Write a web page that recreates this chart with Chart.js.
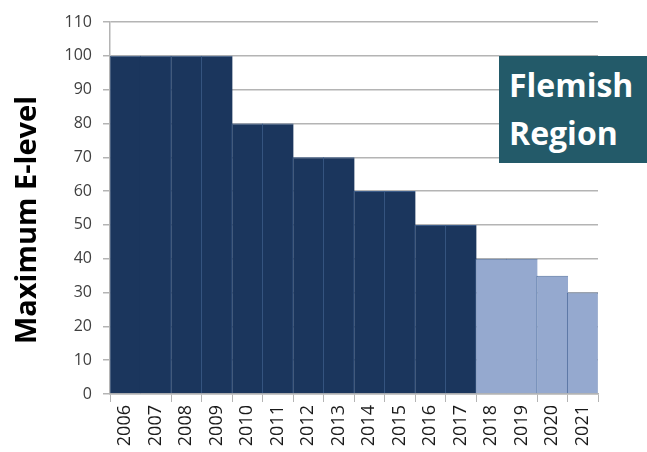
<!DOCTYPE html>
<html>
<head>
<meta charset="utf-8">
<script src="https://cdn.jsdelivr.net/npm/chart.js@4.4.1/dist/chart.umd.min.js"></script>
<style>
  html, body { margin: 0; padding: 0; background: #fff; }
  #wrap { position: relative; width: 647px; height: 452px; }
  #badge {
    position: absolute; left: 499px; top: 56px; width: 138px; height: 102px;
    padding: 5px 0 0 10px; background: #235a69; color: #fff;
    font: bold 32px "Open Sans", sans-serif; line-height: 48px;
  }
</style>
</head>
<body>
<div id="wrap">
  <canvas id="chart" width="647" height="452"></canvas>
  <div id="badge">Flemish<br>Region</div>
</div>
<script>
// data
const years = ['2006','2007','2008','2009','2010','2011','2012','2013','2014','2015','2016','2017','2018','2019','2020','2021'];
const eLevel = [100, 100, 100, 100, 80, 80, 70, 70, 60, 60, 50, 50, 40, 40, 35, 30];
const firstPlannedYear = '2018';   // lighter bars from here on
const mergedWithPrev = ['2007', '2019']; // no divider drawn before these
const yTicksMax = 110;
const yTitle = 'Maximum E-level';

const dark = '#1b365d', darkEdge = '#3d5d8a';
const light = '#95a9cf', lightEdge = '#4f6e9c';
const gridGray = '#b4b4b4';

function isPlanned(i){ return years.indexOf(firstPlannedYear) <= i; }

// y axis title drawn by hand so it can sit exactly where the original had it
const yTitlePlugin = {
  id: 'yTitle',
  afterDraw(chart){
    const ctx = chart.ctx;
    ctx.save();
    ctx.translate(28, 220);
    ctx.rotate(-Math.PI / 2);
    ctx.font = 'bold 29px "Open Sans", sans-serif';
    ctx.fillStyle = '#000';
    ctx.textAlign = 'center';
    ctx.textBaseline = 'middle';
    ctx.fillText(yTitle, 0, 0);
    ctx.restore();
  }
};

new Chart(document.getElementById('chart'), {
  type: 'bar',
  data: {
    labels: years,
    datasets: [{
      data: eLevel,
      backgroundColor: ctx => isPlanned(ctx.dataIndex) ? light : dark,
      borderColor: ctx => isPlanned(ctx.dataIndex) ? lightEdge : darkEdge,
      borderWidth: ctx => ({
        top: 1,
        left: mergedWithPrev.includes(years[ctx.dataIndex]) ? 0 : 1,
        right: ctx.dataIndex === years.length - 1 ? 1 : 0,
        bottom: 0
      }),
      borderSkipped: 'start',
      // a hair wider than the slot so neighbours overlap and leave no seam
      barPercentage: 1.04,
      categoryPercentage: 1
    }]
  },
  options: {
    responsive: false,
    animation: false,
    layout: { padding: { top: 22, right: 49, left: 0, bottom: 0 } },
    plugins: { legend: { display: false }, tooltip: { enabled: false } },
    scales: {
      x: {
        afterFit: s => { s.height = 58; },
        grid: {
          offset: true,
          drawOnChartArea: false,
          tickLength: 8,
          color: ctx => (ctx.index !== undefined && mergedWithPrev.includes(years[ctx.index])) ? 'rgba(0,0,0,0)' : gridGray
        },
        border: { color: gridGray, width: 1.5 },
        ticks: {
          minRotation: 90, maxRotation: 90, padding: 3, autoSkip: false,
          color: '#1a1a1a',
          font: { family: '"Open Sans", sans-serif', size: 18 }
        }
      },
      y: {
        min: 0, max: yTicksMax,
        afterFit: s => { s.width = 110; },
        grid: { color: gridGray, tickLength: 7, lineWidth: 1.5 },
        border: { color: gridGray, width: 1.5 },
        ticks: {
          stepSize: 10, padding: 11,
          color: '#404040',
          font: { family: '"Open Sans", sans-serif', size: 16 }
        }
      }
    }
  },
  plugins: [yTitlePlugin]
});
</script>
</body>
</html>
